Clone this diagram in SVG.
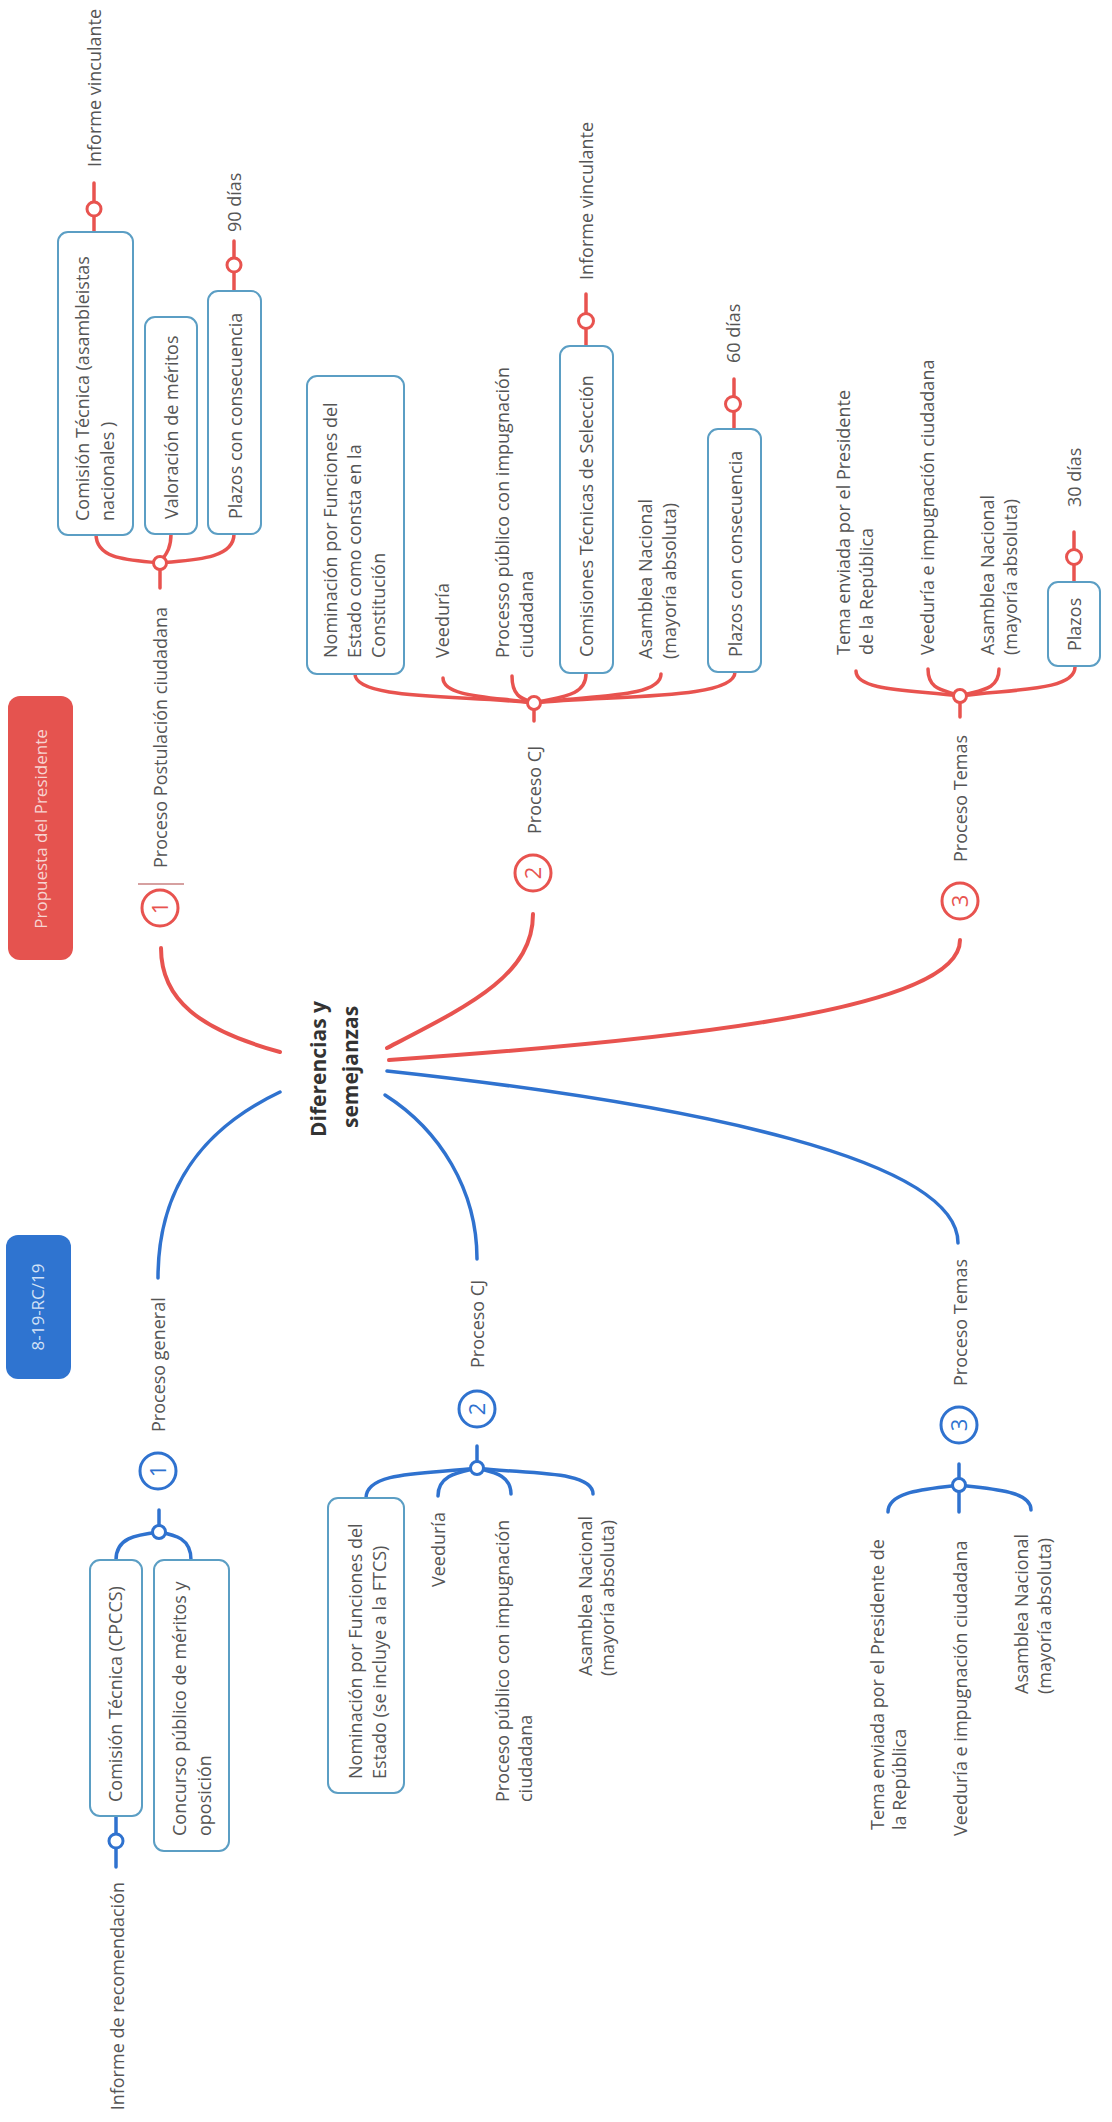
<svg xmlns="http://www.w3.org/2000/svg" width="1112" height="2122" viewBox="0 0 1112 2122">
<style>
.t{font-family:"Open Sans","Liberation Sans",sans-serif;font-size:18px;fill:#555}
.title{font-family:"Open Sans","Liberation Sans",sans-serif;font-size:21px;font-weight:bold;fill:#333}
.tag{font-family:"Open Sans","Liberation Sans",sans-serif;font-size:17px;text-anchor:middle}
.box{fill:#fff;stroke:#5b9ec4;stroke-width:2}
.rc{fill:none;stroke:#e8534f;stroke-width:3.5;stroke-linecap:round}
.bc{fill:none;stroke:#2f72cf;stroke-width:3.5;stroke-linecap:round}
.rm{fill:none;stroke:#e8534f;stroke-width:4;stroke-linecap:round}
.bm{fill:none;stroke:#2f72cf;stroke-width:3.5;stroke-linecap:round}
.rdot{fill:#fff;stroke:#e8534f;stroke-width:3}
.bdot{fill:#fff;stroke:#2f72cf;stroke-width:3}
.rnum{font-family:"Open Sans","Liberation Sans",sans-serif;font-size:22px;fill:#e8534f;text-anchor:middle}
.bnum{font-family:"Open Sans","Liberation Sans",sans-serif;font-size:22px;fill:#2f72cf;text-anchor:middle}
</style>
<rect width="1112" height="2122" fill="#fff"/>

<g id="connectors">
  <!-- red main -->
  <path class="rm" d="M280 1052 C200 1030 161 1000 161 948"/>
  <path class="rm" d="M387 1048 C470 1005 533 975 533 914"/>
  <path class="rm" d="M389 1060 C680 1040 960 1010 960 940"/>
  <!-- red 1 -->
  <path class="rc" d="M160 588 L160 563"/>
  <path class="rc" d="M160 563 C130 560 96 560 96 534"/>
  <path class="rc" d="M160 563 C165 555 171 550 171 534"/>
  <path class="rc" d="M160 563 C190 560 234 560 234 534"/>
  <path class="rc" d="M94 232 L94 183"/>
  <path class="rc" d="M234 291 L234 241"/>
  <!-- red CJ -->
  <path class="rc" d="M534 721 L534 703"/>
  <path class="rc" d="M534 703 C462 695 355 700 355 674"/>
  <path class="rc" d="M534 703 C498 697 443 698 443 678"/>
  <path class="rc" d="M534 703 C525 699 512 699 512 676"/>
  <path class="rc" d="M534 703 C555 697 586 698 586 674"/>
  <path class="rc" d="M534 703 C585 695 661 699 661 674"/>
  <path class="rc" d="M534 703 C614 695 735 700 735 672"/>
  <path class="rc" d="M586 346 L586 294"/>
  <path class="rc" d="M734 429 L734 379"/>
  <!-- red Temas -->
  <path class="rc" d="M960 717 L960 696"/>
  <path class="rc" d="M960 696 C918 690 856 692 856 671"/>
  <path class="rc" d="M960 696 C947 690 928 692 928 669"/>
  <path class="rc" d="M960 696 C976 690 999 692 999 669"/>
  <path class="rc" d="M960 696 C1006 689 1075 692 1075 667"/>
  <path class="rc" d="M1074 582 L1074 532"/>
  <!-- blue main -->
  <path class="bm" d="M280 1092 C200 1130 158 1190 158 1278"/>
  <path class="bm" d="M385 1095 C440 1130 477 1190 477 1259"/>
  <path class="bm" d="M387 1071 C700 1105 958 1160 958 1243"/>
  <!-- blue 1 -->
  <path class="bc" d="M159 1510 L159 1532"/>
  <path class="bc" d="M159 1532 C135 1535 116 1538 116 1560"/>
  <path class="bc" d="M159 1532 C175 1535 191 1538 191 1560"/>
  <path class="bc" d="M116 1816 L116 1867"/>
  <!-- blue CJ -->
  <path class="bc" d="M477 1446 L477 1468"/>
  <path class="bc" d="M477 1468 C433 1474 366 1470 366 1498"/>
  <path class="bc" d="M477 1468 C461 1472 438 1474 438 1496"/>
  <path class="bc" d="M477 1468 C491 1472 511 1474 511 1494"/>
  <path class="bc" d="M477 1468 C523 1474 593 1470 593 1494"/>
  <!-- blue Temas -->
  <path class="bc" d="M959 1464 L959 1485"/>
  <path class="bc" d="M959 1485 C931 1489 888 1490 888 1512"/>
  <path class="bc" d="M959 1485 L959 1512"/>
  <path class="bc" d="M959 1485 C988 1489 1031 1490 1031 1510"/>
  <!-- junction dots -->
  <circle class="rdot" cx="160" cy="563" r="6.5"/>
  <circle class="rdot" cx="94" cy="209" r="7"/>
  <circle class="rdot" cx="234" cy="265" r="7"/>
  <circle class="rdot" cx="534" cy="703" r="6.5"/>
  <circle class="rdot" cx="586" cy="321" r="7.5"/>
  <circle class="rdot" cx="733" cy="404" r="7.5"/>
  <circle class="rdot" cx="960" cy="696" r="6.5"/>
  <circle class="rdot" cx="1074" cy="557" r="7.5"/>
  <circle class="bdot" cx="159" cy="1532" r="6.5"/>
  <circle class="bdot" cx="116" cy="1841" r="7"/>
  <circle class="bdot" cx="477" cy="1468" r="6.5"/>
  <circle class="bdot" cx="959" cy="1485" r="6.5"/>
  <line x1="138" y1="884" x2="184" y2="884" stroke="#c98080" stroke-width="1.5"/>
</g>

<g id="center">
  <text class="title" text-anchor="middle" transform="translate(325.5,1069) rotate(-90)">Diferencias y</text>
  <text class="title" text-anchor="middle" transform="translate(357.5,1067) rotate(-90)">semejanzas</text>
</g>

<g id="tag-propuesta">
  <rect x="8" y="696" width="65" height="264" rx="12" fill="#e5534f"/>
  <text class="tag" fill="#f7d3d1" transform="translate(47,829) rotate(-90)">Propuesta del Presidente</text>
</g>
<g id="tag-rc">
  <rect x="6" y="1235" width="65" height="144" rx="12" fill="#2f74d0"/>
  <text class="tag" fill="#d3e2f6" transform="translate(44,1307) rotate(-90)">8-19-RC/19</text>
</g>

<!-- RED: Proceso Postulación ciudadana -->
<g id="r1">
  <circle class="rdot" cx="160" cy="908" r="18"/>
  <text class="rnum" transform="translate(168,908) rotate(-90)">1</text>
  <text class="t" transform="translate(166.5,868) rotate(-90)">Proceso Postulación ciudadana</text>
</g>
<g id="r1-comision">
  <rect class="box" x="58" y="232" width="75" height="303" rx="10"/>
  <text class="t" transform="translate(88.5,521) rotate(-90)"><tspan x="0">Comisión Técnica (asambleistas</tspan><tspan x="0" dy="25">nacionales )</tspan></text>
</g>
<g id="r1-informe"><text class="t" transform="translate(100.5,167) rotate(-90)">Informe vinculante</text></g>
<g id="r1-valoracion">
  <rect class="box" x="145" y="317" width="52" height="217" rx="10"/>
  <text class="t" transform="translate(177.5,519) rotate(-90)">Valoración de méritos</text>
</g>
<g id="r1-plazos">
  <rect class="box" x="208" y="291" width="53" height="243" rx="10"/>
  <text class="t" transform="translate(241.5,519) rotate(-90)">Plazos con consecuencia</text>
</g>
<g id="r1-90"><text class="t" transform="translate(240.5,232) rotate(-90)">90 días</text></g>

<!-- RED: Proceso CJ -->
<g id="r2">
  <circle class="rdot" cx="533" cy="873" r="18"/>
  <text class="rnum" transform="translate(541,873) rotate(-90)">2</text>
  <text class="t" transform="translate(540.5,834) rotate(-90)">Proceso CJ</text>
</g>
<g id="r2-nominacion">
  <rect class="box" x="307" y="376" width="97" height="298" rx="10"/>
  <text class="t" transform="translate(336.5,658) rotate(-90)"><tspan x="0">Nominación por Funciones del</tspan><tspan x="0" dy="24">Estado como consta en la</tspan><tspan x="0" dy="24">Constitución</tspan></text>
</g>
<g id="r2-veeduria"><text class="t" transform="translate(448.5,658) rotate(-90)">Veeduría</text></g>
<g id="r2-processo"><text class="t" transform="translate(508.5,658) rotate(-90)"><tspan x="0">Processo público con impugnación</tspan><tspan x="0" dy="24">ciudadana</tspan></text></g>
<g id="r2-comisiones">
  <rect class="box" x="560" y="346" width="53" height="327" rx="10"/>
  <text class="t" transform="translate(592.5,657) rotate(-90)">Comisiones Técnicas de Selección</text>
</g>
<g id="r2-informe"><text class="t" transform="translate(592.5,280) rotate(-90)">Informe vinculante</text></g>
<g id="r2-asamblea"><text class="t" transform="translate(651.5,659) rotate(-90)"><tspan x="0">Asamblea Nacional</tspan><tspan x="0" dy="24">(mayoría absoluta)</tspan></text></g>
<g id="r2-plazos">
  <rect class="box" x="708" y="429" width="53" height="243" rx="10"/>
  <text class="t" transform="translate(741.5,657) rotate(-90)">Plazos con consecuencia</text>
</g>
<g id="r2-60"><text class="t" transform="translate(739.5,363) rotate(-90)">60 días</text></g>

<!-- RED: Proceso Temas -->
<g id="r3">
  <circle class="rdot" cx="960" cy="901" r="18"/>
  <text class="rnum" transform="translate(968,901) rotate(-90)">3</text>
  <text class="t" transform="translate(966.5,862) rotate(-90)">Proceso Temas</text>
</g>
<g id="r3-tema"><text class="t" transform="translate(849.5,655) rotate(-90)"><tspan x="0">Tema enviada por el Presidente</tspan><tspan x="0" dy="23">de la República</tspan></text></g>
<g id="r3-veeduria"><text class="t" transform="translate(933.5,655) rotate(-90)">Veeduría e impugnación ciudadana</text></g>
<g id="r3-asamblea"><text class="t" transform="translate(993.5,655) rotate(-90)"><tspan x="0">Asamblea Nacional</tspan><tspan x="0" dy="23">(mayoría absoluta)</tspan></text></g>
<g id="r3-plazos">
  <rect class="box" x="1048" y="582" width="52" height="84" rx="10"/>
  <text class="t" transform="translate(1080.5,651) rotate(-90)">Plazos</text>
</g>
<g id="r3-30"><text class="t" transform="translate(1080.5,507) rotate(-90)">30 días</text></g>

<!-- BLUE: Proceso general -->
<g id="b1">
  <circle class="bdot" cx="158" cy="1471" r="18"/>
  <text class="bnum" transform="translate(166,1471) rotate(-90)">1</text>
  <text class="t" transform="translate(164.5,1432) rotate(-90)">Proceso general</text>
</g>
<g id="b1-comision">
  <rect class="box" x="90" y="1560" width="52" height="256" rx="10"/>
  <text class="t" transform="translate(121.5,1802) rotate(-90)">Comisión Técnica (CPCCS)</text>
</g>
<g id="b1-informe"><text class="t" text-anchor="end" transform="translate(123.5,1882) rotate(-90)">Informe de recomendación</text></g>
<g id="b1-concurso">
  <rect class="box" x="154" y="1560" width="75" height="291" rx="10"/>
  <text class="t" transform="translate(185.5,1836) rotate(-90)"><tspan x="0">Concurso público de méritos y</tspan><tspan x="0" dy="25">oposición</tspan></text>
</g>

<!-- BLUE: Proceso CJ -->
<g id="b2">
  <circle class="bdot" cx="477" cy="1409" r="18"/>
  <text class="bnum" transform="translate(485,1409) rotate(-90)">2</text>
  <text class="t" transform="translate(483.5,1368) rotate(-90)">Proceso CJ</text>
</g>
<g id="b2-nominacion">
  <rect class="box" x="328" y="1498" width="76" height="295" rx="10"/>
  <text class="t" transform="translate(361.5,1779) rotate(-90)"><tspan x="0">Nominación por Funciones del</tspan><tspan x="0" dy="24">Estado (se incluye a la FTCS)</tspan></text>
</g>
<g id="b2-veeduria"><text class="t" transform="translate(444.5,1587) rotate(-90)">Veeduría</text></g>
<g id="b2-proceso"><text class="t" transform="translate(508.5,1802) rotate(-90)"><tspan x="0">Proceso público con impugnación</tspan><tspan x="0" dy="23">ciudadana</tspan></text></g>
<g id="b2-asamblea"><text class="t" transform="translate(591.5,1676) rotate(-90)"><tspan x="0">Asamblea Nacional</tspan><tspan x="0" dy="22">(mayoría absoluta)</tspan></text></g>

<!-- BLUE: Proceso Temas -->
<g id="b3">
  <circle class="bdot" cx="959" cy="1425" r="18"/>
  <text class="bnum" transform="translate(967,1425) rotate(-90)">3</text>
  <text class="t" transform="translate(966.5,1386) rotate(-90)">Proceso Temas</text>
</g>
<g id="b3-tema"><text class="t" transform="translate(883.5,1830) rotate(-90)"><tspan x="0">Tema enviada por el Presidente de</tspan><tspan x="0" dy="22">la República</tspan></text></g>
<g id="b3-veeduria"><text class="t" transform="translate(966.5,1836) rotate(-90)">Veeduría e impugnación ciudadana</text></g>
<g id="b3-asamblea"><text class="t" transform="translate(1027.5,1694) rotate(-90)"><tspan x="0">Asamblea Nacional</tspan><tspan x="0" dy="23">(mayoría absoluta)</tspan></text></g>
</svg>
